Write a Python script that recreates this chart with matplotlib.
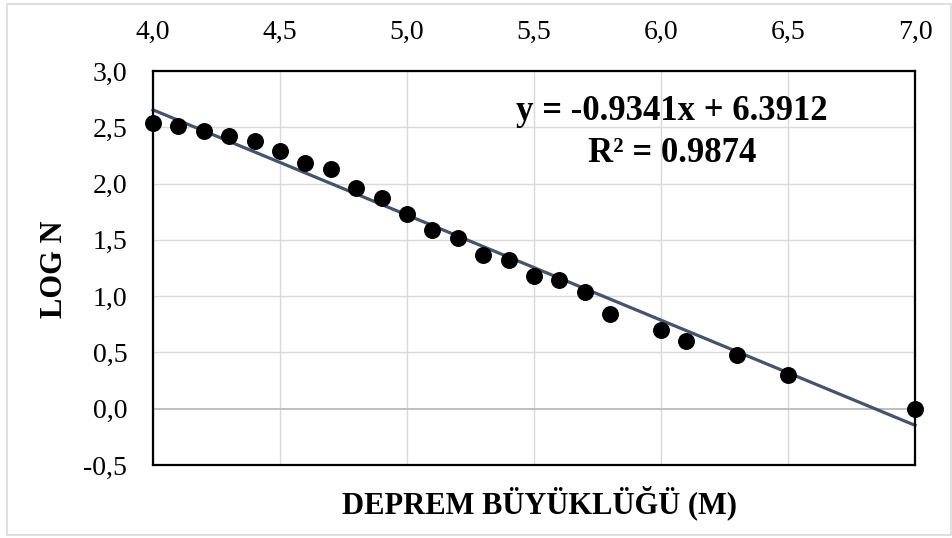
import matplotlib
matplotlib.use("Agg")
import matplotlib.pyplot as plt
from matplotlib.patches import Rectangle
import numpy as np

plt.rcParams['font.family'] = ['Liberation Serif', 'DejaVu Serif']

magnitude = [4.0, 4.1, 4.2, 4.3, 4.4, 4.5, 4.6, 4.7, 4.8, 4.9, 5.0, 5.1, 5.2,
             5.3, 5.4, 5.5, 5.6, 5.7, 5.8, 6.0, 6.1, 6.3, 6.5, 7.0]
log_n = [2.538, 2.509, 2.464, 2.425, 2.377, 2.288, 2.182, 2.130, 1.959, 1.875,
         1.732, 1.591, 1.519, 1.362, 1.322, 1.176, 1.146, 1.041, 0.845, 0.699,
         0.602, 0.477, 0.301, 0.0]
slope = -0.9341
intercept = 6.3912
r2 = 0.9874

x_ticks = [4.0, 4.5, 5.0, 5.5, 6.0, 6.5, 7.0]
x_ticklabels = ["4,0", "4,5", "5,0", "5,5", "6,0", "6,5", "7,0"]
y_ticks = [-0.5, 0.0, 0.5, 1.0, 1.5, 2.0, 2.5, 3.0]
y_ticklabels = ["-0,5", "0,0", "0,5", "1,0", "1,5", "2,0", "2,5", "3,0"]

W, H = 952, 538
fig = plt.figure(figsize=(W/100, H/100), dpi=100)
ax = fig.add_axes([153/W, 1-465/H, (915-153)/W, (465-71)/H])

ax.set_xlim(4.0, 7.0)
ax.set_ylim(-0.5, 3.0)

# grid
for xv in x_ticks:
    ax.axvline(xv, color='#d9d9d9', lw=1.0, zorder=0)
for yv in y_ticks:
    if yv == 0.0:
        ax.axhline(yv, color='#bfbfbf', lw=1.4, zorder=0)
    else:
        ax.axhline(yv, color='#d9d9d9', lw=1.0, zorder=0)

# trendline
xl = np.array([x_ticks[0], x_ticks[-1]])
ax.plot(xl, slope * xl + intercept, color='#44546a', lw=2.3, zorder=2, clip_on=False)

ax.scatter(magnitude, log_n, s=125, color='black', zorder=3, clip_on=False)

ax.xaxis.tick_top()
ax.set_xticks(x_ticks)
ax.set_xticklabels(x_ticklabels)
ax.set_yticks(y_ticks)
ax.set_yticklabels(y_ticklabels)
ax.tick_params(axis='both', length=0, labelsize=20, pad=18.5)

for sp in ax.spines.values():
    sp.set_color('black')
    sp.set_linewidth(1.6)

eq_x = (672-153)/(915-153)
ax.text(eq_x, (465-120)/394, f"y = {slope}x + {intercept}", transform=ax.transAxes,
        ha='center', va='baseline', fontsize=25, fontweight='bold')
ax.text(eq_x, (465-162)/394, f"R² = {r2}", transform=ax.transAxes,
        ha='center', va='baseline', fontsize=25, fontweight='bold')

fig.text(539/W, 1-513/H, "DEPREM BÜYÜKLÜĞÜ (M)", ha='center', va='baseline',
         fontsize=22, fontweight='bold')
fig.text(55/W, 1-269/H, "LOG N", ha='center', va='center', rotation=90,
         fontsize=22, fontweight='bold')

fig.patches.append(Rectangle((7/W, 1-535/H), (951-7)/W, (535-4)/H,
                             transform=fig.transFigure, fill=False,
                             edgecolor='#d9d9d9', lw=1.2))

fig.savefig("out.png", dpi=100)
